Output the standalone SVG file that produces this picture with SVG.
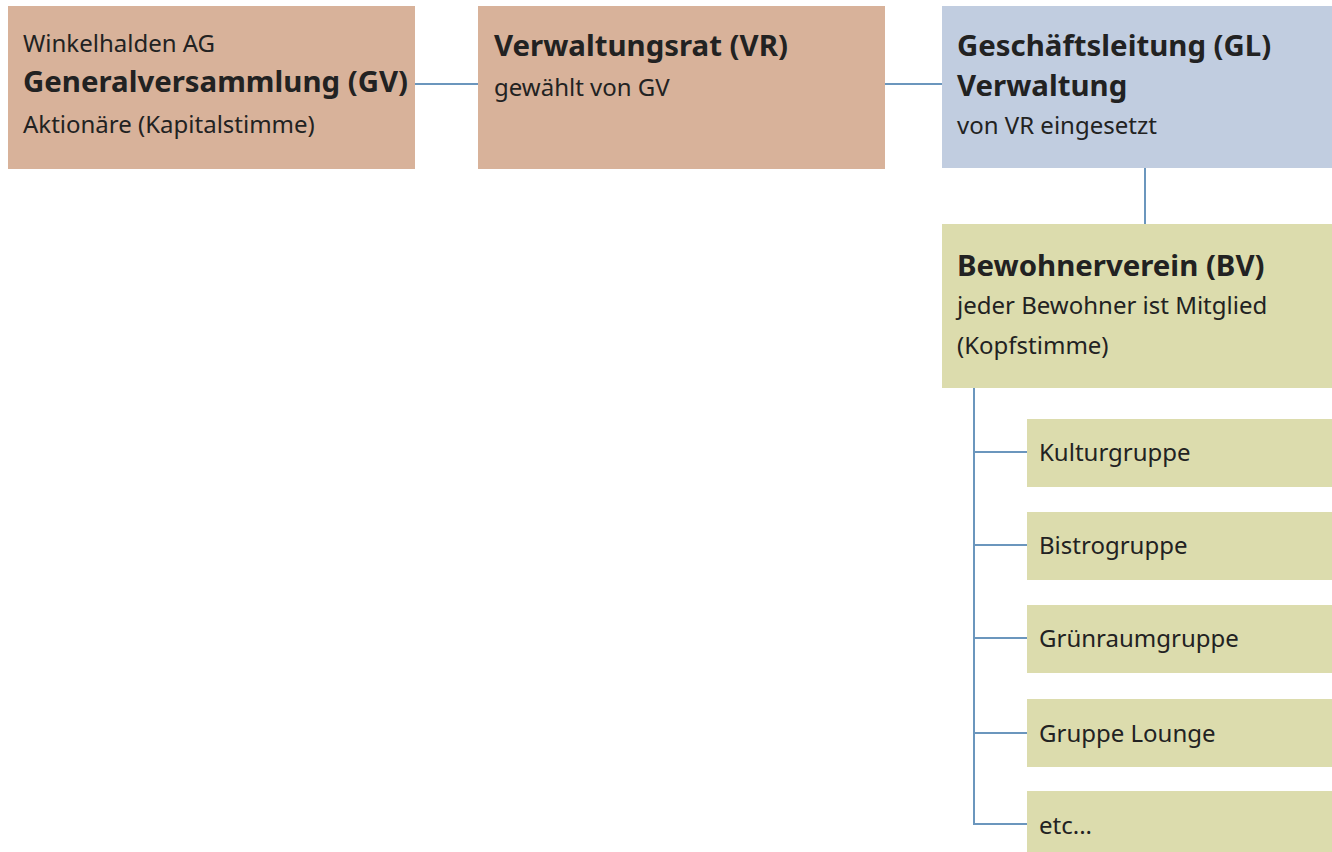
<svg xmlns="http://www.w3.org/2000/svg" width="1332" height="852" viewBox="0 0 1332 852">
<style>
.t{font-family:"Noto Sans","Open Sans",sans-serif;fill:#222;}
.r{font-size:24px;}
.b{font-size:29.4px;font-weight:bold;}
.brown{fill:#d8b29a;}
.blue{fill:#c1cde0;}
.green{fill:#dcdcad;}
.c{stroke:#6b96bd;stroke-width:2;fill:none;}
</style>
<rect width="1332" height="852" fill="#ffffff"/>
<g id="connectors">
<line class="c" x1="415" y1="84" x2="478" y2="84"/>
<line class="c" x1="885" y1="84" x2="942" y2="84"/>
<line class="c" x1="1145" y1="168" x2="1145" y2="224"/>
<polyline class="c" points="974,388 974,824 1027,824"/>
<line class="c" x1="974" y1="452" x2="1027" y2="452"/>
<line class="c" x1="974" y1="545" x2="1027" y2="545"/>
<line class="c" x1="974" y1="638" x2="1027" y2="638"/>
<line class="c" x1="974" y1="733" x2="1027" y2="733"/>
</g>
<g id="gv">
<rect class="brown" x="8" y="6" width="407" height="163"/>
<text class="t r" x="23" y="52">Winkelhalden AG</text>
<text class="t b" x="23" y="92">Generalversammlung (GV)</text>
<text class="t r" x="23" y="133">Aktionäre (Kapitalstimme)</text>
</g>
<g id="vr">
<rect class="brown" x="478" y="6" width="407" height="163"/>
<text class="t b" x="494" y="56">Verwaltungsrat (VR)</text>
<text class="t r" x="494" y="96">gewählt von GV</text>
</g>
<g id="gl">
<rect class="blue" x="942" y="6" width="390" height="162"/>
<text class="t b" x="957" y="56">Geschäftsleitung (GL)</text>
<text class="t b" x="957" y="96">Verwaltung</text>
<text class="t r" x="957" y="134">von VR eingesetzt</text>
</g>
<g id="bv">
<rect class="green" x="942" y="224" width="390" height="164"/>
<text class="t b" x="957" y="276">Bewohnerverein (BV)</text>
<text class="t r" x="957" y="314">jeder Bewohner ist Mitglied</text>
<text class="t r" x="957" y="354">(Kopfstimme)</text>
</g>
<g id="kultur">
<rect class="green" x="1027" y="419" width="305" height="68"/>
<text class="t r" x="1039" y="461">Kulturgruppe</text>
</g>
<g id="bistro">
<rect class="green" x="1027" y="512" width="305" height="68"/>
<text class="t r" x="1039" y="554">Bistrogruppe</text>
</g>
<g id="gruenraum">
<rect class="green" x="1027" y="605" width="305" height="68"/>
<text class="t r" x="1039" y="647">Grünraumgruppe</text>
</g>
<g id="lounge">
<rect class="green" x="1027" y="699" width="305" height="68"/>
<text class="t r" x="1039" y="742">Gruppe Lounge</text>
</g>
<g id="etc">
<rect class="green" x="1027" y="791" width="305" height="61"/>
<text class="t r" x="1039" y="834">etc...</text>
</g>
</svg>
